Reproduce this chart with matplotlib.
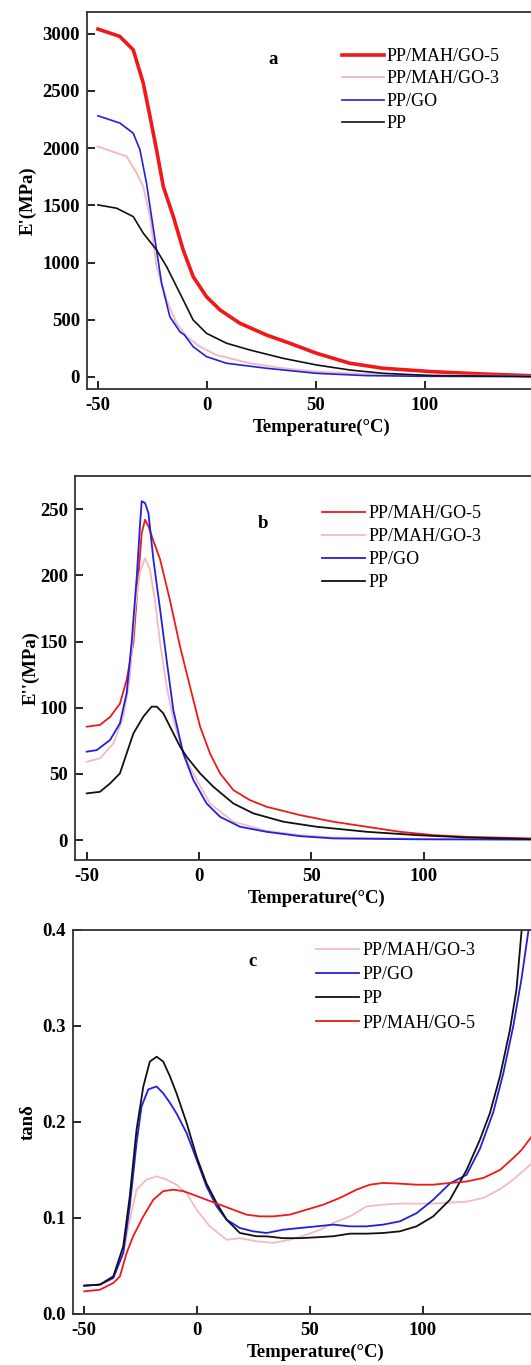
import matplotlib
matplotlib.use("Agg")
import matplotlib.pyplot as plt

plt.rcParams['font.family'] = ['Liberation Serif', 'DejaVu Serif']
plt.rcParams['axes.unicode_minus'] = False

# ---- panel a: storage modulus E' (MPa) ----
a_T_mah5 = [-50, -40, -33.8, -29.2, -26.1, -23.1, -20, -15.4, -10.9, -6.3, -0.2, 6, 15.1, 27.3, 38, 50.3, 65.6, 80.9, 103.8, 126.8, 150]
a_E_mah5 = [3041, 2977, 2860, 2569, 2277, 1985, 1664, 1402, 1111, 877, 702, 586, 470, 367, 295, 207, 120, 76, 46, 26, 10]
a_T_mah3 = [-50, -36.8, -32.2, -29.2, -26.1, -23.1, -18.5, -13.9, -9.3, -3.2, 4.4, 19.7, 35, 50.3, 75, 100, 150]
a_E_mah3 = [2014, 1927, 1781, 1664, 1402, 965, 673, 470, 352, 265, 192, 120, 76, 46, 25, 15, 8]
a_T_go = [-50, -39.9, -33.8, -30.7, -27.7, -25.4, -23.1, -20.8, -17, -12.4, -10.3, -6.3, -0.2, 9, 27.4, 50.3, 73, 100, 150]
a_E_go = [2283, 2219, 2131, 1985, 1694, 1402, 1111, 820, 527, 396, 367, 265, 178, 120, 76, 32, 12, 6, 3]
a_T_pp = [-50, -41.4, -33.8, -29.2, -23.1, -18.5, -12.4, -6.3, -0.2, 9, 19.7, 35, 50.3, 65.6, 80.9, 103.8, 150]
a_E_pp = [1504, 1475, 1402, 1257, 1111, 965, 732, 498, 382, 295, 236, 163, 105, 61, 32, 12, 5]

# ---- panel b: loss modulus E'' (MPa) ----
b_T_mah5 = [-50, -44.1, -39.6, -35.2, -32.2, -29.2, -27, -25.5, -24, -22.5, -20.3, -17.3, -12.9, -8.4, -4, 0.5, 4.9, 9.4, 15.3, 22.7, 30.1, 45, 59.8, 74.7, 89.5, 104.3, 119.2, 150]
b_E_mah5 = [85.7, 87, 93, 103, 121, 149, 199, 232, 242, 237, 226, 212, 181, 146, 116, 85.7, 65.5, 50.4, 37.8, 30.2, 25.2, 18.9, 13.9, 10.1, 6.3, 3.8, 2.5, 1.2]
b_T_mah3 = [-50, -44.1, -38.1, -33.7, -30.7, -28.5, -26.3, -24, -21.8, -19.6, -17.3, -14.4, -11.4, -7, -1, 4.9, 15.3, 30.1, 45, 60, 100, 150]
b_E_mah3 = [59.2, 61.7, 73, 93, 123, 174, 202, 213, 204, 181, 149, 116, 91, 65.5, 45.4, 27.7, 13.9, 7, 3.8, 2, 1, 0.5]
b_T_go = [-50, -45.5, -39.6, -35.2, -32.2, -30, -27.7, -26.3, -25.5, -24, -22.5, -20.3, -17.3, -14.4, -11.4, -7, -2.5, 3.4, 9.4, 18.3, 30.1, 45, 59.8, 100, 150]
b_E_go = [66.8, 68, 75.6, 88.2, 111, 149, 199, 237, 256, 254.5, 247, 212, 174, 136, 98, 65.5, 45.4, 27.7, 17.6, 10.1, 6.3, 3, 1.3, 0.6, 0.4]
b_T_pp = [-50, -44.1, -39.6, -35.2, -32.2, -29.2, -24.8, -21.1, -18.8, -15.9, -12.9, -8.4, -5.5, 0.5, 6.4, 15.3, 24.2, 37.6, 52.4, 74.7, 96.9, 119.2, 150]
b_E_pp = [35.3, 36.5, 42.8, 50.4, 65.5, 80.6, 93.2, 100.8, 100.8, 95.8, 85.7, 70.6, 63, 50.4, 40.3, 27.7, 20.2, 13.9, 10.1, 6.3, 3.8, 2, 0.7]

# ---- panel c: tan delta ----
c_T_mah3 = [-50, -43, -37.1, -32.7, -29.8, -26.8, -22.4, -17.9, -13.5, -9.1, -4.6, -0.2, 5.7, 13.1, 19, 26.4, 33.8, 41.2, 48.6, 54.5, 60.4, 67.8, 75.1, 82.5, 89.9, 97.3, 104.7, 112.1, 119.5, 126.9, 134.3, 140.2, 145, 150]
c_t_mah3 = [0.0295, 0.031, 0.039, 0.0635, 0.098, 0.1295, 0.14, 0.1434, 0.14, 0.1347, 0.126, 0.1087, 0.0913, 0.0774, 0.079, 0.0757, 0.074, 0.0774, 0.0826, 0.0878, 0.0948, 0.1017, 0.112, 0.114, 0.115, 0.115, 0.115, 0.116, 0.117, 0.121, 0.13, 0.14, 0.15, 0.16]
c_T_go = [-50, -43, -37.1, -32.7, -29.8, -26.8, -24.6, -21.6, -17.9, -15, -12, -9.1, -4.6, -0.2, 4.2, 8.7, 13.1, 19, 24.9, 30.8, 38.2, 45.6, 53, 60.4, 67.8, 75.1, 82.5, 89.9, 97.3, 104.7, 112.1, 119.5, 125.4, 131.3, 135.7, 140.2, 143.9, 150]
c_t_go = [0.0295, 0.0306, 0.0375, 0.0635, 0.112, 0.178, 0.216, 0.234, 0.237, 0.23, 0.22, 0.209, 0.1885, 0.161, 0.133, 0.112, 0.0983, 0.0896, 0.0861, 0.0844, 0.0878, 0.0896, 0.0913, 0.0931, 0.0913, 0.0913, 0.0931, 0.0965, 0.105, 0.119, 0.136, 0.145, 0.172, 0.21, 0.25, 0.3, 0.35, 0.45]
c_T_pp = [-50, -43, -37.1, -32.7, -29.8, -26.8, -23.8, -20.9, -17.9, -15, -12, -9.1, -4.6, -0.2, 4.2, 8.7, 13.1, 19, 26.4, 30.8, 38.2, 45.6, 53, 60.4, 67.8, 75.1, 82.5, 89.9, 97.3, 104.7, 112.1, 119.5, 125.4, 129.8, 134.3, 138.7, 141.6, 143.9, 150]
c_t_pp = [0.0295, 0.0306, 0.0392, 0.0705, 0.1226, 0.192, 0.237, 0.263, 0.268, 0.263, 0.2476, 0.23, 0.199, 0.164, 0.136, 0.1156, 0.0983, 0.0844, 0.081, 0.0809, 0.079, 0.079, 0.0799, 0.081, 0.0837, 0.0837, 0.0844, 0.0861, 0.0913, 0.1017, 0.119, 0.15, 0.1816, 0.209, 0.2476, 0.296, 0.338, 0.4, 0.55]
c_T_mah5 = [-50, -43, -37.1, -34.2, -31.2, -28.3, -23.8, -19.4, -15, -10.5, -6.1, -1.7, 4.2, 10.1, 16, 21.9, 27.9, 33.8, 41.2, 48.6, 56, 63.4, 70.7, 76.6, 82.5, 89.9, 97.3, 104.7, 112.1, 119.5, 126.9, 134.3, 140.2, 143.9, 150]
c_t_mah5 = [0.0236, 0.0253, 0.0323, 0.039, 0.0635, 0.081, 0.1017, 0.119, 0.128, 0.1295, 0.128, 0.1243, 0.119, 0.1139, 0.1087, 0.1035, 0.1017, 0.1017, 0.1035, 0.1087, 0.1139, 0.121, 0.1295, 0.1347, 0.1365, 0.1358, 0.1347, 0.1347, 0.1365, 0.138, 0.1417, 0.15, 0.1625, 0.171, 0.19]

RED = '#f01818'
PINK = '#f2bcbc'
BLUE = '#2020e0'
BLACK = '#111111'

W, H = 531, 1365
fig = plt.figure(figsize=(W / 100, H / 100), dpi=100)
fig.patch.set_facecolor('white')


def make_axes(left_px, top_px, bottom_px, px_per_unit, xmin, xmax):
    width = (xmax - xmin) * px_per_unit
    return fig.add_axes([left_px / W, 1 - bottom_px / H, width / W, (bottom_px - top_px) / H])


def style(ax, ylabel, yticks, ytick_labels, ypad=4):
    for s in ax.spines.values():
        s.set_linewidth(1.3)
        s.set_color('#333333')
    ax.set_xticks([-50, 0, 50, 100])
    ax.set_yticks(yticks)
    ax.set_yticklabels(ytick_labels)
    ax.tick_params(direction='in', length=5.5, width=1.2, labelsize=13.5)
    ax.tick_params(axis='x', pad=6)
    ax.tick_params(axis='y', pad=5)
    for lab in ax.get_xticklabels() + ax.get_yticklabels():
        lab.set_fontweight('bold')
    ax.set_xlabel('Temperature(°C)', fontsize=13.5, fontweight='bold', labelpad=3)
    ax.set_ylabel(ylabel, fontsize=13.5, fontweight='bold', labelpad=ypad)


# panel a
ax = make_axes(87, 12, 389, 2.18, -55, 160)
ax.plot(a_T_mah5, a_E_mah5, color=RED, lw=2.6, label='PP/MAH/GO-5')
ax.plot(a_T_mah3, a_E_mah3, color=PINK, lw=1.4, label='PP/MAH/GO-3')
ax.plot(a_T_go, a_E_go, color=BLUE, lw=1.2, label='PP/GO')
ax.plot(a_T_pp, a_E_pp, color=BLACK, lw=1.2, label='PP')
ax.set_xlim(-55, 160)
ax.set_ylim(-105, 3190)
style(ax, "E'(MPa)", [0, 500, 1000, 1500, 2000, 2500, 3000],
      ['0', '500', '1000', '1500', '2000', '2500', '3000'])
ax.text((273 - 87) / (2.18 * 215), 1 - (60 - 12) / 377, 'a', transform=ax.transAxes,
        fontsize=13.5, fontweight='bold', ha='center', va='center')
ax.legend(loc='upper left', bbox_to_anchor=((342 - 87) / (2.18 * 215), 1 - (48 - 12) / 377),
          frameon=False, fontsize=13, handlelength=2.3, handletextpad=0.15,
          labelspacing=0.3, borderpad=0, borderaxespad=0)

# panel b
ax = make_axes(75, 476, 860, 2.246, -55.2, 160)
ax.plot(b_T_mah5, b_E_mah5, color=RED, lw=1.3, label='PP/MAH/GO-5')
ax.plot(b_T_mah3, b_E_mah3, color=PINK, lw=1.3, label='PP/MAH/GO-3')
ax.plot(b_T_go, b_E_go, color=BLUE, lw=1.3, label='PP/GO')
ax.plot(b_T_pp, b_E_pp, color=BLACK, lw=1.3, label='PP')
ax.set_xlim(-55.2, 160)
ax.set_ylim(-15, 275)
style(ax, "E''(MPa)", [0, 50, 100, 150, 200, 250], ['0', '50', '100', '150', '200', '250'], ypad=0)
ax.text((263 - 75) / (2.246 * 215.2), 1 - (523 - 476) / 384, 'b', transform=ax.transAxes,
        fontsize=13.5, fontweight='bold', ha='center', va='center')
ax.legend(loc='upper left', bbox_to_anchor=((322 - 75) / (2.246 * 215.2), 1 - (505 - 476) / 384),
          frameon=False, fontsize=13, handlelength=2.4, handletextpad=0.15,
          labelspacing=0.33, borderpad=0, borderaxespad=0)

# panel c
ax = make_axes(72.7, 930, 1314, 2.256, -55.1, 160)
ax.plot(c_T_mah3, c_t_mah3, color=PINK, lw=1.3, label='PP/MAH/GO-3')
ax.plot(c_T_go, c_t_go, color=BLUE, lw=1.3, label='PP/GO')
ax.plot(c_T_pp, c_t_pp, color=BLACK, lw=1.3, label='PP')
ax.plot(c_T_mah5, c_t_mah5, color=RED, lw=1.3, label='PP/MAH/GO-5')
ax.set_xlim(-55.1, 160)
ax.set_ylim(0, 0.4)
style(ax, 'tanδ', [0, 0.1, 0.2, 0.3, 0.4], ['0.0', '0.1', '0.2', '0.3', '0.4'])
ax.text((252 - 72.7) / (2.256 * 215.1), 1 - (962 - 930) / 384, 'c', transform=ax.transAxes,
        fontsize=13.5, fontweight='bold', ha='center', va='center')
ax.legend(loc='upper left', bbox_to_anchor=((316 - 72.7) / (2.256 * 215.1), 1 - (942 - 930) / 384),
          frameon=False, fontsize=13, handlelength=2.4, handletextpad=0.15,
          labelspacing=0.4, borderpad=0, borderaxespad=0)

fig.savefig('out.png', dpi=100)
